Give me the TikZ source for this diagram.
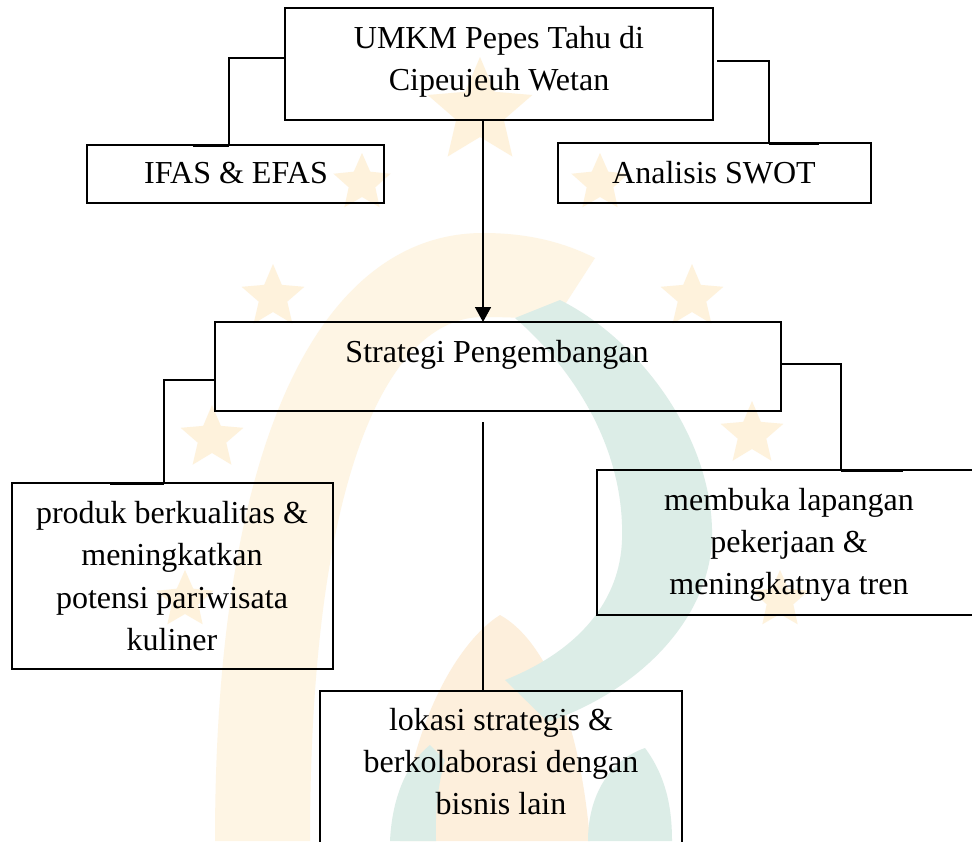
\documentclass[tikz,border=0pt]{standalone}
\usepackage{fontspec}
\setmainfont{Liberation Serif}
\usetikzlibrary{arrows.meta,calc}
\definecolor{wmyellow}{HTML}{FEF5E4}
\definecolor{wmorange}{HTML}{FDEFDC}
\definecolor{wmgreen}{HTML}{DCEDE7}
\definecolor{wmstarc}{HTML}{FEF2DC}
\newcommand{\wmstar}[4]{\fill[wmstarc, shift={(#1,#2)}] (-90:#3) -- (-54:#4) -- (-18:#3) -- (18:#4) -- (54:#3) -- (90:#4) -- (126:#3) -- (162:#4) -- (198:#3) -- (234:#4) -- cycle;}
\tikzset{
 box/.style={draw=black, line width=1pt, inner sep=0pt, outer sep=0pt},
 txt/.style={inner sep=0pt, anchor=base, font=\fontsize{16}{21}\selectfont},
 conn/.style={draw=black, line width=0.8pt},
 stub/.style={draw=black, line width=1.5pt},
}
\begin{document}
\begin{tikzpicture}[x=0.5pt,y=-0.5pt]
\useasboundingbox (0,0) rectangle (972,841);
\fill[white] (0,0) rectangle (972,841);
% ---- watermark ----
\fill[wmyellow] (215,841) .. controls (215,420) and (330,233) .. (483,233)
  .. controls (530,233) and (565,243) .. (595,258) -- (555,320)
  .. controls (530,318) and (505,317) .. (483,317)
  .. controls (390,317) and (310,470) .. (310,841) -- cycle;
\fill[wmorange] (400,841) .. controls (410,720) and (460,640) .. (500,615)
  .. controls (545,640) and (580,720) .. (590,841) -- cycle;
\fill[wmgreen] (560,300) .. controls (640,340) and (715,440) .. (712,540)
  .. controls (708,620) and (640,690) .. (548,722)
  -- (505,680) .. controls (580,650) and (620,600) .. (622,540)
  .. controls (625,450) and (575,370) .. (515,318) -- cycle;
\fill[wmgreen] (390,841) .. controls (392,800) and (405,765) .. (430,745)
  -- (445,760) .. controls (438,785) and (435,810) .. (436,841) -- cycle;
\fill[wmgreen] (588,841) .. controls (588,795) and (610,760) .. (645,748)
  .. controls (665,775) and (672,805) .. (672,841) -- cycle;
\wmstar{480}{112}{55}{25}
\wmstar{362}{183}{30}{14}
\wmstar{600}{183}{30}{14}
\wmstar{273}{297}{33}{15}
\wmstar{692}{297}{33}{15}
\wmstar{212}{438}{33}{15}
\wmstar{752}{434}{33}{15}
\wmstar{185}{600}{30}{14}
\wmstar{780}{600}{30}{14}
% ---- boxes ----
\node[box, minimum width=214pt, minimum height=56pt] (top) at (499,64) {};
\node[box, minimum width=148.5pt, minimum height=29pt] (ifas) at (235.5,174) {};
\node[box, minimum width=156.5pt, minimum height=30pt] (swot) at (714.5,173) {};
\node[box, minimum width=283pt, minimum height=44.5pt] (strat) at (498,366.5) {};
\node[box, minimum width=160.5pt, minimum height=93pt] (prod) at (172.5,576) {};
\node[box, minimum width=192pt, minimum height=72.5pt] (mem) at (789,542.5) {};
\node[box, minimum width=181pt, minimum height=89.5pt] (lok) at (501,780.5) {};
% ---- texts ----
\node[txt] (topa) at (499,48) {UMKM Pepes Tahu di};
\node[txt] (topb) at (499,90) {Cipeujeuh Wetan};
\node[txt] (ifast) at (236,183) {IFAS \& EFAS};
\node[txt] (swott) at (714,183) {Analisis SWOT};
\node[txt] (stratt) at (497,362) {Strategi Pengembangan};
\node[txt] (proda) at (172,523) {produk berkualitas \&};
\node[txt] (prodb) at (172,565) {meningkatkan};
\node[txt] (prodc) at (172,608) {potensi pariwisata};
\node[txt] (prodd) at (172,650) {kuliner};
\node[txt] (mema) at (789,510) {membuka lapangan};
\node[txt] (memb) at (789,552) {pekerjaan \&};
\node[txt] (memc) at (789,594) {meningkatnya tren};
\node[txt] (loka) at (501,730) {lokasi strategis \&};
\node[txt] (lokb) at (501,772) {berkolaborasi dengan};
\node[txt] (lokc) at (501,814) {bisnis lain};
% ---- connectors ----
\draw[conn] ([yshift=3pt]top.west) -| ([xshift=-3.25pt]ifas.north);
\draw[stub] ([xshift=-3.25pt]ifas.north) -- ([xshift=-21.25pt]ifas.north);
\draw[conn] ([xshift=2pt,yshift=1.5pt]top.east) -| ([xshift=27.25pt]swot.north);
\draw[stub] ([xshift=27.25pt]swot.north) -- ([xshift=52.25pt]swot.north);
\draw[conn, -{Triangle[width=8pt,length=7.5pt]}] ([xshift=-8pt]top.south) -- ([xshift=-7.5pt]strat.north);
\draw[conn] ([yshift=-6.75pt]strat.west) -| ([xshift=-4.25pt]prod.north);
\draw[stub] ([xshift=-4.25pt]prod.north) -- ([xshift=-31.25pt]prod.north);
\draw[conn] ([yshift=1.25pt]strat.east) -| ([xshift=26pt]mem.north);
\draw[stub] ([xshift=26pt]mem.north) -- ([xshift=57pt]mem.north);
\coordinate (vfree) at (483,422);
\draw[conn] (vfree) -- (vfree |- lok.north);
\end{tikzpicture}
\end{document}
